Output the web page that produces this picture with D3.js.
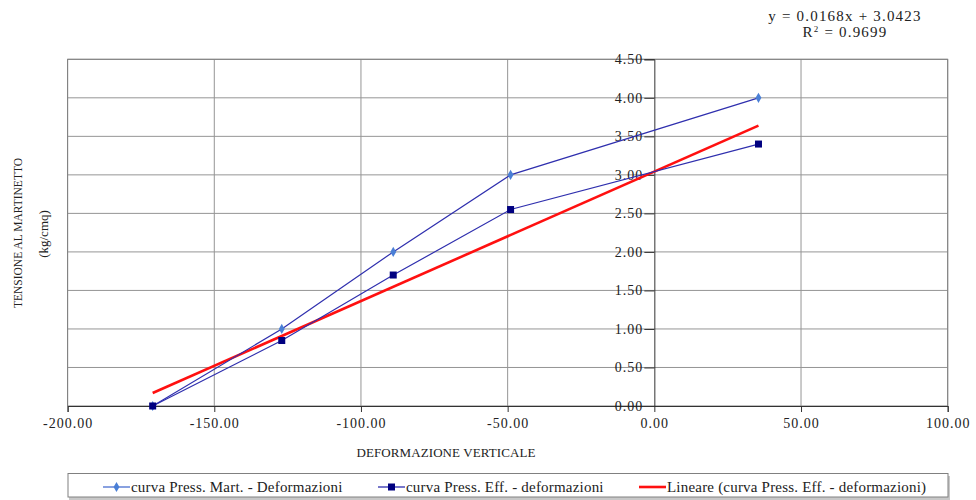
<!DOCTYPE html>
<html>
<head>
<meta charset="utf-8">
<script src="https://cdn.jsdelivr.net/npm/d3@7"></script>
<style>
  html, body { margin: 0; padding: 0; background: #fff; }
  svg { display: block; }
  text { font-family: "Liberation Serif", "DejaVu Serif", serif; fill: #222; }
</style>
</head>
<body>
<svg id="chart" width="976" height="500"></svg>
<script>
// Deformazione verticale (x) misurata per ogni gradino di carico
const deformazioni = [-171, -127, -89, -49, 35.5];
// Tensione letta al martinetto (kg/cmq)
const pressMart = [0, 1, 2, 3, 4];
// Tensione effettiva (kg/cmq)
const pressEff = [0, 0.85, 1.7, 2.55, 3.4];
// Retta di regressione lineare su pressEff
const trendSlope = 0.0168;
const trendIntercept = 3.0423;
const trendR2 = 0.9699;

const xTicks = [-200, -150, -100, -50, 0, 50, 100];
const yTicks = [0, 0.5, 1, 1.5, 2, 2.5, 3, 3.5, 4, 4.5];

const seriesNames = [
  "curva Press. Mart. - Deformazioni",
  "curva Press. Eff. - deformazioni",
  "Lineare (curva Press. Eff. - deformazioni)"
];

const svg = d3.select("#chart");
const plot = { left: 67.6, right: 947.7, top: 59.3, bottom: 406 };

const x = d3.scaleLinear().domain([-200, 100]).range([plot.left, plot.right]);
const y = d3.scaleLinear().domain([0, 4.5]).range([plot.bottom, plot.top]);

// due decimali, segno meno come trattino semplice
const fmt = d => d3.format(".2f")(d).replace("\u2212", "-");

// griglia
const grid = svg.append("g");
grid.selectAll("line.h").data(yTicks.slice(1)).join("line")
  .attr("x1", plot.left).attr("x2", plot.right)
  .attr("y1", d => y(d)).attr("y2", d => y(d))
  .attr("stroke", "#959595").attr("stroke-width", 1);
grid.selectAll("line.v").data(xTicks.filter(d => d !== 0)).join("line")
  .attr("y1", plot.top).attr("y2", plot.bottom)
  .attr("x1", d => x(d)).attr("x2", d => x(d))
  .attr("stroke", "#959595").attr("stroke-width", 1);

// cornice dell'area del grafico
svg.append("rect")
  .attr("x", plot.left).attr("y", plot.top)
  .attr("width", plot.right - plot.left).attr("height", plot.bottom - plot.top)
  .attr("fill", "none").attr("stroke", "#808080").attr("stroke-width", 1);

// asse X sulla tensione zero
const xAxis = svg.append("g")
  .attr("transform", `translate(0,${y(0)})`)
  .call(d3.axisBottom(x).tickValues(xTicks).tickFormat(fmt).tickSize(6).tickPadding(6));
xAxis.select(".domain").attr("stroke", "#333");
xAxis.selectAll(".tick line").attr("stroke", "#333");
xAxis.selectAll("text").style("font-size", "14px").style("letter-spacing", "1px").attr("fill", "#333")
  .style("font-family", '"Liberation Serif", serif');

// asse Y sulla deformazione zero
const yAxis = svg.append("g")
  .attr("transform", `translate(${x(0)},0)`)
  .call(d3.axisLeft(y).tickValues(yTicks).tickFormat(fmt).tickSize(10).tickPadding(1));
yAxis.select(".domain").attr("stroke", "#333");
yAxis.selectAll(".tick line").attr("stroke", "#333");
yAxis.selectAll("text").style("font-size", "14px").style("letter-spacing", "1px").attr("fill", "#333")
  .style("font-family", '"Liberation Serif", serif');

// serie
const line = d3.line().x(d => x(d[0])).y(d => y(d[1]));
const martPts = deformazioni.map((d, i) => [d, pressMart[i]]);
const effPts = deformazioni.map((d, i) => [d, pressEff[i]]);
const xExt = d3.extent(deformazioni);
const trendPts = xExt.map(v => [v, trendSlope * v + trendIntercept]);

svg.append("path").datum(trendPts).attr("d", line)
  .attr("fill", "none").attr("stroke", "#ff1010").attr("stroke-width", 2.6);

svg.append("path").datum(martPts).attr("d", line)
  .attr("fill", "none").attr("stroke", "#2f2fae").attr("stroke-width", 1.2);
svg.append("path").datum(effPts).attr("d", line)
  .attr("fill", "none").attr("stroke", "#2f2fae").attr("stroke-width", 1.2);

const diamond = d3.symbol().type(d3.symbolDiamond).size(30);
svg.append("g").selectAll("path").data(martPts).join("path")
  .attr("d", diamond)
  .attr("transform", d => `translate(${x(d[0])},${y(d[1])})`)
  .attr("fill", "#4a7fd6");

svg.append("g").selectAll("rect").data(effPts).join("rect")
  .attr("x", d => x(d[0]) - 3.5).attr("y", d => y(d[1]) - 3.5)
  .attr("width", 7).attr("height", 7)
  .attr("fill", "#000080");

// equazione della retta di tendenza
svg.append("text").attr("x", 845).attr("y", 21).attr("text-anchor", "middle")
  .style("font-size", "15px").style("letter-spacing", "1.2px")
  .text(`y = ${trendSlope.toFixed(4)}x + ${trendIntercept.toFixed(4)}`);
const r2 = svg.append("text").attr("x", 845).attr("y", 37).attr("text-anchor", "middle")
  .style("font-size", "15px").style("letter-spacing", "1.2px");
r2.append("tspan").text("R");
r2.append("tspan").attr("dy", -5).style("font-size", "9px").text("2");
r2.append("tspan").attr("dy", 5).text(` = ${trendR2.toFixed(4)}`);

// titoli degli assi
svg.append("text").attr("transform", "translate(22,233) rotate(-90)")
  .attr("text-anchor", "middle").style("font-size", "11.5px")
  .text("TENSIONE AL MARTINETTO");
svg.append("text").attr("transform", "translate(48,234) rotate(-90)")
  .attr("text-anchor", "middle").style("font-size", "13px")
  .text("(kg/cmq)");
svg.append("text").attr("x", 446).attr("y", 457).attr("text-anchor", "middle")
  .style("font-size", "13px").style("letter-spacing", "0.1px")
  .text("DEFORMAZIONE VERTICALE");

// legenda
const lg = svg.append("g");
lg.append("rect").attr("x", 69).attr("y", 476).attr("width", 881).attr("height", 24)
  .attr("fill", "#c8c8c8");
lg.append("rect").attr("x", 68).attr("y", 473.5).attr("width", 880).attr("height", 23.5)
  .attr("fill", "#fff").attr("stroke", "#808080").attr("stroke-width", 1);

const legendItems = [
  { x: 103, color: "#4a6fd0", marker: "diamond" },
  { x: 378, color: "#2f2fae", marker: "square" },
  { x: 639, color: "#ff1010", marker: "none" }
];
legendItems.forEach((it, i) => {
  const g = lg.append("g").attr("transform", `translate(${it.x},487)`);
  g.append("line").attr("x1", 0).attr("x2", 27).attr("y1", 0).attr("y2", 0)
    .attr("stroke", it.color).attr("stroke-width", i === 2 ? 2.6 : 1.3);
  if (it.marker === "diamond") {
    g.append("path").attr("d", diamond).attr("transform", "translate(13.5,0)").attr("fill", "#4a7fd6");
  } else if (it.marker === "square") {
    g.append("rect").attr("x", 10).attr("y", -3.5).attr("width", 7).attr("height", 7).attr("fill", "#000080");
  }
  g.append("text").attr("x", 28).attr("y", 5).style("font-size", "15px").style("letter-spacing", "0.2px")
    .text(seriesNames[i]);
});
</script>
</body>
</html>
